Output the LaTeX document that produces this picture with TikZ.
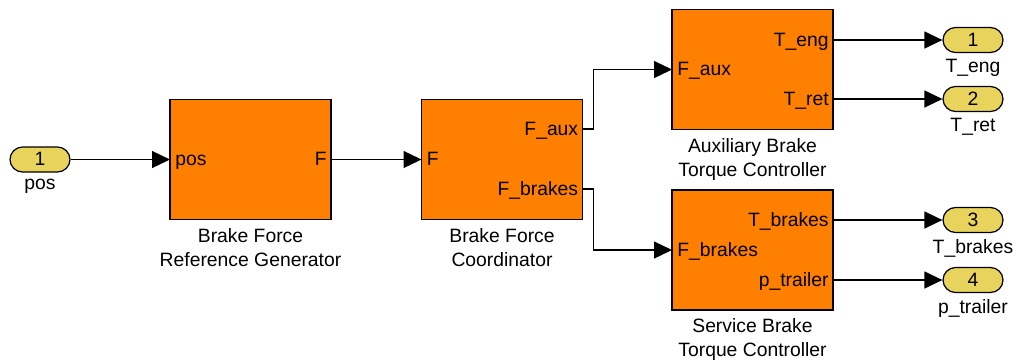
\documentclass[tikz,border=0pt]{standalone}
\usepackage{fontspec}
\setmainfont{Liberation Sans}
\usetikzlibrary{arrows.meta, positioning, calc}
\definecolor{blkcolor}{HTML}{FF8000}
\definecolor{portcolor}{HTML}{E8D45C}

\begin{document}
\begin{tikzpicture}[
    x=0.02cm, y=-0.02cm,
    every node/.style={font=\fontsize{11}{13.6}\selectfont},
    blk/.style={draw, fill=blkcolor, line width=0.7pt, minimum width=3.22cm, minimum height=2.4cm, inner sep=0pt},
    port/.style={draw, fill=portcolor, line width=0.7pt, rounded corners=0.25cm, minimum width=1.2cm, minimum height=0.5cm, inner sep=0pt, text height=0.9em, text depth=0.18em},
    pin/.style={anchor=west, inner xsep=0.1cm, inner ysep=0pt, text height=0.9em, text depth=0.18em},
    pout/.style={anchor=east, inner xsep=0.08cm, inner ysep=0pt, text height=0.9em, text depth=0.18em},
    plbl/.style={anchor=north, inner xsep=1pt, inner ysep=3.5pt},
    blbl/.style={anchor=north, align=center, inner xsep=1.5pt, inner ysep=4.5pt},
    wire/.style={line width=0.7pt, -{Triangle[length=0.36cm, width=0.34cm]}}
]
    \useasboundingbox (0,0) rectangle (1016,363);

    % --- inport ---
    \node[port] (in1) at (40,159.5) {1};
    \node[plbl] at (in1.south) {pos};

    % --- Brake Force Reference Generator ---
    \node[blk] (b1) at (250.5,159.5) {};
    \node[blbl] at (b1.south) {Brake Force\\Reference Generator};
    \node[pin] (b1pos) at (170,159.5) {pos};
    \node[pout] (b1f) at (331,159.5) {F};

    % --- Brake Force Coordinator ---
    \node[blk] (b2) at (502,159.5) {};
    \node[blbl] at (b2.south) {Brake Force\\Coordinator};
    \node[pin] (b2f) at (421.5,159.5) {F};
    \node[pout] (b2faux) at (582.5,129) {F\_aux};
    \node[pout] (b2fbr) at (582.5,189) {F\_brakes};

    % --- Auxiliary Brake Torque Controller ---
    \node[blk] (b3) at (752.5,69.5) {};
    \node[blbl] at (b3.south) {Auxiliary Brake\\Torque Controller};
    \node[pin] (b3faux) at (672,69.5) {F\_aux};
    \node[pout] (b3teng) at (833,40) {T\_eng};
    \node[pout] (b3tret) at (833,99) {T\_ret};

    % --- Service Brake Torque Controller ---
    \node[blk] (b4) at (752.5,250) {};
    \node[blbl] at (b4.south) {Service Brake\\Torque Controller};
    \node[pin] (b4fbr) at (672,250) {F\_brakes};
    \node[pout] (b4tbr) at (833,220) {T\_brakes};
    \node[pout] (b4ptr) at (833,280) {p\_trailer};

    % --- outports ---
    \node[port] (out1) at (973,40) {1};
    \node[plbl] at (out1.south) {T\_eng};
    \node[port] (out2) at (973,99) {2};
    \node[plbl] at (out2.south) {T\_ret};
    \node[port] (out3) at (973,220) {3};
    \node[plbl] at (out3.south) {T\_brakes};
    \node[port] (out4) at (973,280) {4};
    \node[plbl] at (out4.south) {p\_trailer};

    % --- signals ---
    \draw[wire] (in1.east) -- (b1pos.west);
    \draw[wire] (b1f.east) -- (b2f.west);
    \draw[wire] (b2faux.east) -- ++(11,0) |- (b3faux.west);
    \draw[wire] (b2fbr.east) -- ++(11,0) |- (b4fbr.west);
    \draw[wire] (b3teng.east) -- (out1.west);
    \draw[wire] (b3tret.east) -- (out2.west);
    \draw[wire] (b4tbr.east) -- (out3.west);
    \draw[wire] (b4ptr.east) -- (out4.west);
\end{tikzpicture}
\end{document}
